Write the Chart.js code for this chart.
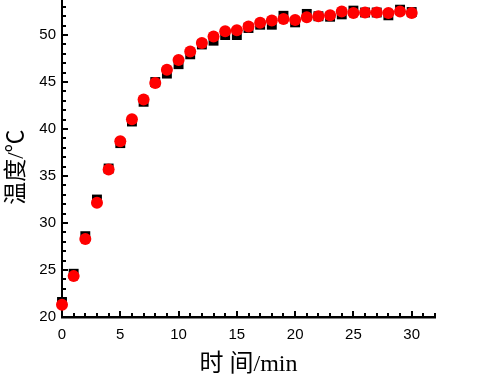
<!DOCTYPE html>
<html>
<head>
<meta charset="utf-8">
<script src="https://cdn.jsdelivr.net/npm/chart.js@4"></script>
<style>
html,body{margin:0;padding:0;background:#fff;}
#wrap{width:480px;height:388px;position:relative;}
</style>
</head>
<body>
<div id="wrap"><canvas id="c" width="480" height="388"></canvas></div>
<script>
const timeMin = [0,1,2,3,4,5,6,7,8,9,10,11,12,13,14,15,16,17,18,19,20,21,22,23,24,25,26,27,28,29,30];
const seriesBlack = [21.6,24.6,28.6,32.5,35.8,38.5,40.8,42.9,45.0,45.9,46.9,47.95,49.0,49.4,50.0,50.0,50.75,51.1,51.1,52.05,51.35,52.25,52.0,51.95,52.2,52.6,52.4,52.4,52.1,52.7,52.45];
const seriesRed = [21.3,24.35,28.3,32.15,35.7,38.7,41.05,43.15,44.9,46.3,47.35,48.25,49.15,49.85,50.4,50.5,50.9,51.3,51.55,51.7,51.6,51.9,52.0,52.1,52.5,52.35,52.4,52.4,52.35,52.5,52.35];
const xTitle = '时 间/min';
const yTitle = '温度/℃   ';

function pts(ys){ return timeMin.map((t,i)=>({x:t,y:ys[i]})); }

const innerTicks = {
  id:'innerTicks',
  beforeDatasetsDraw(chart){
    const ctx = chart.ctx, ca = chart.chartArea;
    const xs = chart.scales.x, ys = chart.scales.y;
    ctx.save();
    ctx.strokeStyle = '#000';
    ctx.lineWidth = 2;
    ctx.beginPath();
    for(let v=xs.min; v<=xs.max+1e-9; v+=1){
      const px = Math.round(xs.getPixelForValue(v));
      const len = (v%5===0)?6:4;
      ctx.moveTo(px, ca.bottom);
      ctx.lineTo(px, ca.bottom-len);
    }
    for(let v=Math.ceil(ys.min); v<=ys.max+1e-9; v+=1){
      const py = Math.round(ys.getPixelForValue(v));
      const len = (v%5===0)?6:4;
      ctx.moveTo(ca.left, py);
      ctx.lineTo(ca.left+len, py);
    }
    ctx.stroke();
    ctx.restore();
  }
};

function zeroPad(s){ s.paddingTop=0; s.paddingBottom=0; s.paddingLeft=0; s.paddingRight=0; }

new Chart(document.getElementById('c'), {
  type:'scatter',
  data:{
    datasets:[
      {data:pts(seriesRed), pointStyle:'circle', pointRadius:6, backgroundColor:'#ff0000', borderColor:'#ff0000', borderWidth:0, clip:false, order:0},
      {data:pts(seriesBlack), pointStyle:'rect', pointRadius:7, backgroundColor:'#000', borderColor:'#000', borderWidth:0, clip:false, order:1}
    ]
  },
  options:{
    responsive:false,
    animation:false,
    layout:{autoPadding:false, padding:{top:0,right:45,bottom:0,left:0}},
    plugins:{legend:{display:false}, tooltip:{enabled:false}},
    scales:{
      x:{
        type:'linear', min:0, max:32,
        afterFit(s){ s.height = 71; zeroPad(s); },
        grid:{drawOnChartArea:false, drawTicks:false},
        border:{display:true, color:'#000', width:2.5},
        ticks:{stepSize:5, includeBounds:false, color:'#000', padding:9, font:{family:'Liberation Sans', size:15}},
        title:{display:true, text:xTitle, color:'#000', font:{family:'Liberation Serif, Noto Sans CJK SC', size:24}, padding:{top:0,bottom:9}}
      },
      y:{
        type:'linear', min:20, max:53.73,
        afterFit(s){ s.width = 62; zeroPad(s); },
        grid:{drawOnChartArea:false, drawTicks:false},
        border:{display:true, color:'#000', width:2},
        ticks:{stepSize:5, includeBounds:false, color:'#000', padding:6, font:{family:'Liberation Sans', size:15}},
        title:{display:true, text:yTitle, color:'#000', font:{family:'Liberation Serif, Noto Sans CJK SC', size:23}, padding:{top:3,bottom:0}}
      }
    }
  },
  plugins:[innerTicks]
});
</script>
</body>
</html>
